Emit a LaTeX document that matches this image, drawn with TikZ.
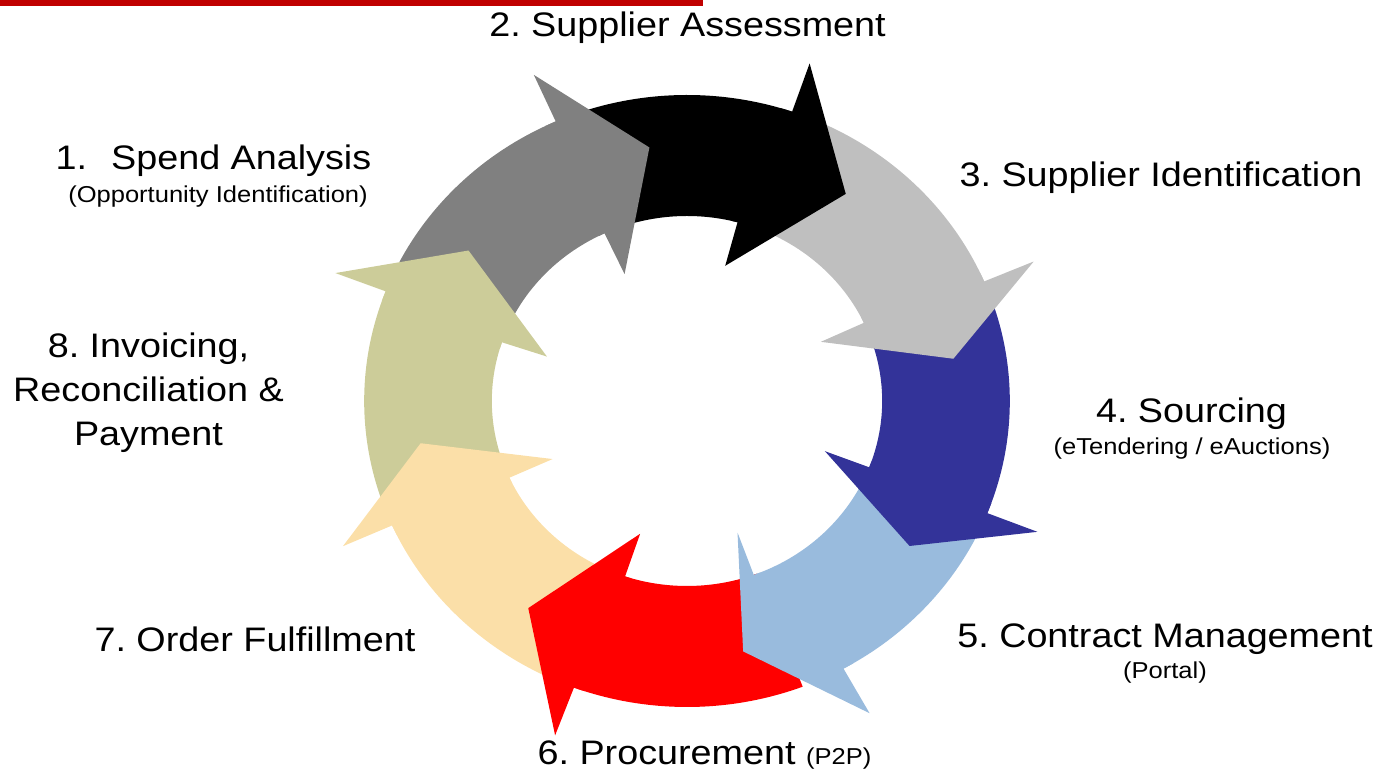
\documentclass[tikz,border=0pt]{standalone}
\usepackage{fontspec}
\setmainfont{Liberation Sans}[FakeStretch=1.11]
\usepackage{tikz}

\definecolor{barred}{RGB}{192,0,0}
\definecolor{ringgray}{RGB}{128,128,128}
\definecolor{ringblack}{RGB}{0,0,0}
\definecolor{ringsilver}{RGB}{191,191,191}
\definecolor{ringnavy}{RGB}{51,51,153}
\definecolor{ringsky}{RGB}{153,187,221}
\definecolor{ringred}{RGB}{255,0,0}
\definecolor{ringtan}{RGB}{251,223,168}
\definecolor{ringolive}{RGB}{204,204,153}

\newcommand{\mainsize}{\fontsize{17}{22}\selectfont}
\newcommand{\subsize}{\fontsize{11.5}{14}\selectfont}
\frenchspacing

\begin{document}
\begin{tikzpicture}[x=0.5pt, y=0.5pt,
    lbl/.style={font=\mainsize, anchor=base, inner sep=0pt},
    sublbl/.style={font=\subsize, anchor=base, inner sep=0pt}]
  \useasboundingbox (0,0) rectangle (1388,771);
  \fill[barred] (0,765) rectangle (703,771);

  % ring of eight arrows: start / outer base / inner base / tip / colour
  \begin{scope}[shift={(687,370)}, xscale=1.055]
    \def\rin{185} \def\rout{306} \def\rbi{140} \def\rbo{357} \def\rtip{256}
    \def\arrowlist{157/114/115/98/ringgray, 112/71/75/54/ringblack,
      69/23/25/9.5/ringsilver, 21/-21.5/-21/-34.5/ringnavy,
      -23.5/-61/-70/-78/ringsky, -69/-110.5/-108.5/-126/ringred,
      -112.5/-156/-155.5/-170.5/ringtan, -158/-201/-198.5/-216/ringolive}
    % bodies first
    \foreach \s/\bo/\bi/\t/\col in \arrowlist
      \fill[\col] (\s:\rout) arc[start angle=\s, end angle=\bo, radius=\rout]
        -- (\bi:\rin) arc[start angle=\bi, end angle=\s, radius=\rin] -- cycle;
    % heads on top of the next tail
    \foreach \s/\bo/\bi/\t/\col in \arrowlist
      \fill[\col] (\bi+2:\rin) arc[start angle=\bi+2, end angle=\bi, radius=\rin]
        -- (\bi:\rbi) -- (\t:\rtip) -- (\bo:\rbo) -- (\bo:\rout)
        arc[start angle=\bo, end angle=\bo+2, radius=\rout] -- cycle;
  \end{scope}

  \node[lbl] (spend) at (213.5,601) {1.\hspace{12pt}Spend Analysis};
  \node[sublbl] (spendsub) at (218,568) {(Opportunity Identification)};
  \node[lbl] (assess) at (687.5,734) {2. Supplier Assessment};
  \node[lbl] (ident) at (1161,584) {3. Supplier Identification};
  \node[lbl] (sourcing) at (1191.5,348) {4. Sourcing};
  \node[sublbl] (sourcingsub) at (1192,316) {(eTendering / eAuctions)};
  \node[lbl] (contract) at (1165,123) {5. Contract Management};
  \node[sublbl] (contractsub) at (1165,92) {(Portal)};
  \node[lbl] (procure) at (704.5,6) {6. Procurement {\subsize (P2P)}};
  \node[lbl] (fulfil) at (255,119) {7. Order Fulfillment};
  \node[lbl, anchor=north, align=center] (invoice) at (148.5,439)
    {8. Invoicing,\\Reconciliation \&\\Payment};
\end{tikzpicture}
\end{document}
